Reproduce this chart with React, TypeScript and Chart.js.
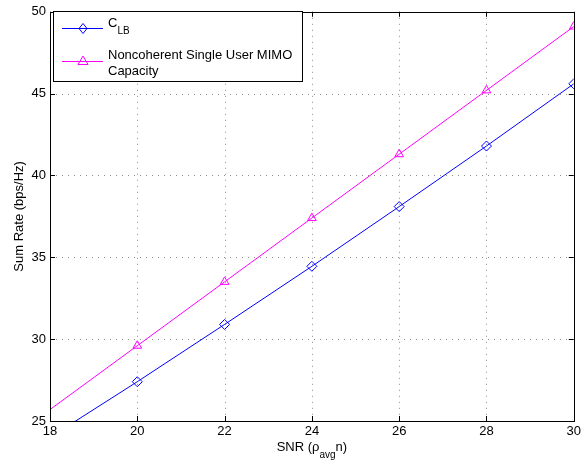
import React, { useEffect, useRef } from "react";
import { Chart, registerables } from "chart.js";

Chart.register(...registerables);

const snr = [18, 20, 22, 24, 26, 28, 30];
const clb = [24.0, 27.4, 30.9, 34.45, 38.1, 41.8, 45.6];
const capacity = [25.7, 29.6, 33.5, 37.4, 41.3, 45.2, 49.1];
const xTicks = [18, 20, 22, 24, 26, 28, 30];
const yTicks = [25, 30, 35, 40, 45, 50];

const FONT = "'Liberation Sans', Arial, Helvetica, sans-serif";
const BLUE = "#0000ff";
const MAGENTA = "#ff00ff";
const FS = 13;
const FSUB = 10;

function drawDiamond(ctx: CanvasRenderingContext2D, x: number, y: number, r: number) {
  ctx.beginPath();
  ctx.moveTo(x, y - r);
  ctx.lineTo(x + r * 0.8, y);
  ctx.lineTo(x, y + r);
  ctx.lineTo(x - r * 0.8, y);
  ctx.closePath();
  ctx.stroke();
}
function drawTriangle(ctx: CanvasRenderingContext2D, x: number, y: number, r: number) {
  ctx.beginPath();
  ctx.moveTo(x, y - r);
  ctx.lineTo(x + r, y + r * 0.7);
  ctx.lineTo(x - r, y + r * 0.7);
  ctx.closePath();
  ctx.stroke();
}

const gridPlugin = {
  id: "matlabGrid",
  beforeDatasetsDraw(chart: any) {
    const { ctx, chartArea: a, scales } = chart;
    const xs = scales.x, ys = scales.y;
    ctx.save();
    ctx.strokeStyle = "rgba(0,0,0,0.45)";
    ctx.lineWidth = 1;
    ctx.setLineDash([1, 5]);
    xTicks.forEach((v) => {
      const px = Math.round(xs.getPixelForValue(v)) + 0.5;
      if (px < a.left + 2 || px > a.right - 2) return;
      ctx.beginPath();
      ctx.moveTo(px, a.top);
      ctx.lineTo(px, a.bottom);
      ctx.stroke();
    });
    yTicks.forEach((v) => {
      const py = Math.round(ys.getPixelForValue(v)) + 0.5;
      if (py < a.top + 2 || py > a.bottom - 2) return;
      ctx.beginPath();
      ctx.moveTo(a.left, py);
      ctx.lineTo(a.right, py);
      ctx.stroke();
    });
    ctx.restore();
  },
  afterDraw(chart: any) {
    const { ctx, chartArea: a, scales } = chart;
    const xs = scales.x, ys = scales.y;
    ctx.save();
    ctx.setLineDash([]);
    ctx.strokeStyle = "#000";
    ctx.lineWidth = 1;
    // box
    ctx.strokeRect(Math.round(a.left) + 0.5, Math.round(a.top) + 0.5, Math.round(a.right - a.left), Math.round(a.bottom - a.top));
    // ticks inward
    const tl = 5;
    xTicks.forEach((v) => {
      const px = Math.round(xs.getPixelForValue(v)) + 0.5;
      ctx.beginPath();
      ctx.moveTo(px, a.bottom);
      ctx.lineTo(px, a.bottom - tl);
      ctx.moveTo(px, a.top);
      ctx.lineTo(px, a.top + tl);
      ctx.stroke();
    });
    yTicks.forEach((v) => {
      const py = Math.round(ys.getPixelForValue(v)) + 0.5;
      ctx.beginPath();
      ctx.moveTo(a.left, py);
      ctx.lineTo(a.left + tl, py);
      ctx.moveTo(a.right, py);
      ctx.lineTo(a.right - tl, py);
      ctx.stroke();
    });

    // legend
    const lx = 53.5, ly = 11.5, lw = 249, lh = 70;
    ctx.fillStyle = "#fff";
    ctx.fillRect(lx, ly, lw, lh);
    ctx.strokeStyle = "#000";
    ctx.strokeRect(lx, ly, lw, lh);

    // row 1
    ctx.strokeStyle = BLUE;
    ctx.beginPath();
    ctx.moveTo(62, 28.5);
    ctx.lineTo(103, 28.5);
    ctx.stroke();
    drawDiamond(ctx, 83, 28.5, 5);
    ctx.fillStyle = "#000";
    ctx.textBaseline = "alphabetic";
    ctx.textAlign = "left";
    ctx.font = `${FS}px ${FONT}`;
    ctx.fillText("C", 108, 27);
    const cw = ctx.measureText("C").width;
    ctx.font = `${FSUB}px ${FONT}`;
    ctx.fillText("LB", 108 + cw, 34);

    // row 2
    ctx.strokeStyle = MAGENTA;
    ctx.beginPath();
    ctx.moveTo(62, 61.5);
    ctx.lineTo(103, 61.5);
    ctx.stroke();
    drawTriangle(ctx, 83, 61, 5);
    ctx.fillStyle = "#000";
    ctx.font = `${FS}px ${FONT}`;
    ctx.fillText("Noncoherent Single User MIMO", 108, 58.5);
    ctx.fillText("Capacity", 108, 75);

    // x title
    const p1 = "SNR (\u03C1";
    const p3 = "n)";
    ctx.font = `${FSUB}px ${FONT}`;
    const w2 = ctx.measureText("avg").width;
    ctx.font = `${FS}px ${FONT}`;
    const w1 = ctx.measureText(p1).width;
    const w3 = ctx.measureText(p3).width;
    const total = w1 + w2 + w3;
    const cx = (a.left + a.right) / 2;
    const sx = cx - total / 2;
    ctx.fillText(p1, sx, 451);
    ctx.font = `${FSUB}px ${FONT}`;
    ctx.fillText("avg", sx + w1, 458);
    ctx.font = `${FS}px ${FONT}`;
    ctx.fillText(p3, sx + w1 + w2, 451);

    // y title
    ctx.save();
    ctx.translate(23, (a.top + a.bottom) / 2);
    ctx.rotate(-Math.PI / 2);
    ctx.textAlign = "center";
    ctx.font = `${FS}px ${FONT}`;
    ctx.fillText("Sum Rate (bps/Hz)", 0, 0);
    ctx.restore();

    ctx.restore();
  },
};

export default function App() {
  const ref = useRef<HTMLCanvasElement>(null);
  useEffect(() => {
    if (!ref.current) return;
    const radii = snr.map((_, i) => (i === 0 ? 0 : 5));
    const chart = new Chart(ref.current, {
      type: "line",
      data: {
        datasets: [
          {
            label: "C_LB",
            data: snr.map((x, i) => ({ x, y: clb[i] })),
            borderColor: BLUE,
            backgroundColor: "rgba(0,0,0,0)",
            borderWidth: 1,
            pointStyle: "rectRot",
            pointRadius: radii,
            pointBorderColor: BLUE,
            pointBackgroundColor: "rgba(0,0,0,0)",
            pointBorderWidth: 1,
            tension: 0,
          },
          {
            label: "Noncoherent Single User MIMO Capacity",
            data: snr.map((x, i) => ({ x, y: capacity[i] })),
            borderColor: MAGENTA,
            backgroundColor: "rgba(0,0,0,0)",
            borderWidth: 1,
            pointStyle: "triangle",
            pointRadius: radii,
            pointBorderColor: MAGENTA,
            pointBackgroundColor: "rgba(0,0,0,0)",
            pointBorderWidth: 1,
            tension: 0,
          },
        ],
      },
      options: {
        responsive: false,
        animation: false,
        layout: { padding: { left: 0, right: 6, top: 5, bottom: 0 } },
        plugins: { legend: { display: false }, tooltip: { enabled: false } },
        scales: {
          x: {
            type: "linear",
            min: 18,
            max: 30,
            afterBuildTicks: (s: any) => {
              s.ticks = xTicks.map((v) => ({ value: v }));
            },
            afterFit: (s: any) => {
              s.height = 40;
            },
            grid: { display: false, drawTicks: false },
            border: { display: false },
            ticks: {
              color: "#000",
              font: { family: FONT, size: FS },
              padding: 3,
              maxRotation: 0,
              autoSkip: false,
            },
          },
          y: {
            type: "linear",
            min: 25,
            max: 50,
            afterBuildTicks: (s: any) => {
              s.ticks = yTicks.map((v) => ({ value: v }));
            },
            afterFit: (s: any) => {
              s.width = 50;
            },
            grid: { display: false, drawTicks: false },
            border: { display: false },
            ticks: {
              color: "#000",
              font: { family: FONT, size: FS },
              padding: 4,
              autoSkip: false,
            },
          },
        },
      },
      plugins: [gridPlugin],
    });
    return () => chart.destroy();
  }, []);
  return (
    <div style={{ position: "fixed", left: 0, top: 0, width: 584, height: 461, background: "#fff" }}>
      <canvas ref={ref} width={584} height={461} style={{ width: 584, height: 461 }} />
    </div>
  );
}
